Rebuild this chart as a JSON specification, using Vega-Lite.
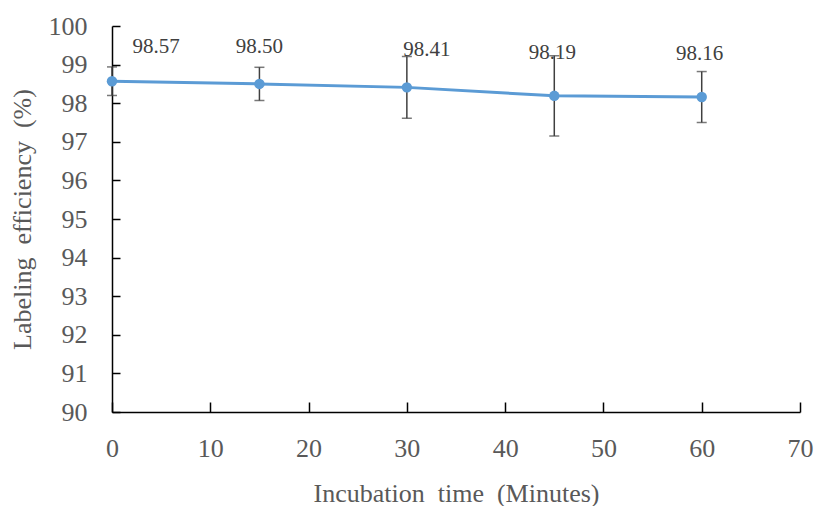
{
  "$schema": "https://vega.github.io/schema/vega-lite/v6.json",
  "width": 688,
  "height": 386,
  "autosize": {"type": "none"},
  "padding": {"left": 112, "top": 26, "right": 16, "bottom": 94},
  "background": "white",
  "config": {
    "view": {"stroke": null},
    "font": "'Liberation Serif', 'Times New Roman', serif"
  },
  "data": {
    "values": [
      {"time": 0, "eff": 98.57, "lo": 98.20, "hi": 98.94, "label": "98.57"},
      {"time": 15, "eff": 98.50, "lo": 98.07, "hi": 98.93, "label": "98.50"},
      {"time": 30, "eff": 98.41, "lo": 97.61, "hi": 99.21, "label": "98.41"},
      {"time": 45, "eff": 98.19, "lo": 97.15, "hi": 99.23, "label": "98.19"},
      {"time": 60, "eff": 98.16, "lo": 97.50, "hi": 98.82, "label": "98.16"}
    ]
  },
  "encoding": {
    "x": {
      "field": "time", "type": "quantitative",
      "scale": {"domain": [0, 70], "nice": false, "zero": false},
      "axis": {
        "title": "Incubation\u00a0 time\u00a0 (Minutes)",
        "values": [0, 10, 20, 30, 40, 50, 60, 70],
        "grid": false,
        "domainColor": "#000000", "domainWidth": 1.5,
        "tickColor": "#000000", "tickWidth": 1.5, "tickSize": -10,
        "labelFont": "'Liberation Serif', 'Times New Roman', serif", "labelFontSize": 26, "labelColor": "#595959",
        "labelPadding": 33, "labelFlush": false,
        "titleFont": "'Liberation Serif', 'Times New Roman', serif", "titleFontSize": 26, "titleColor": "#595959",
        "titleFontWeight": "normal",
        "titleBaseline": "alphabetic", "titleY": 89
      }
    },
    "y": {
      "field": "eff", "type": "quantitative",
      "scale": {"domain": [90, 100], "nice": false, "zero": false},
      "axis": {
        "title": "Labeling\u00a0 efficiency\u00a0 (%)",
        "values": [90, 91, 92, 93, 94, 95, 96, 97, 98, 99, 100],
        "grid": false,
        "domainColor": "#000000", "domainWidth": 1.5,
        "tickColor": "#000000", "tickWidth": 1.5, "tickSize": -8,
        "labelFont": "'Liberation Serif', 'Times New Roman', serif", "labelFontSize": 26, "labelColor": "#595959",
        "labelPadding": 33, "labelFlush": false,
        "titleFont": "'Liberation Serif', 'Times New Roman', serif", "titleFontSize": 26, "titleColor": "#595959",
        "titleFontWeight": "normal",
        "titleBaseline": "middle", "titleX": -90
      }
    }
  },
  "layer": [
    {
      "mark": {"type": "rule", "color": "#404040", "strokeWidth": 1.5},
      "encoding": {"y": {"field": "lo", "type": "quantitative"}, "y2": {"field": "hi"}}
    },
    {
      "mark": {"type": "tick", "color": "#404040", "orient": "horizontal", "size": 10, "thickness": 1.5},
      "encoding": {"y": {"field": "lo", "type": "quantitative"}}
    },
    {
      "mark": {"type": "tick", "color": "#404040", "orient": "horizontal", "size": 10, "thickness": 1.5},
      "encoding": {"y": {"field": "hi", "type": "quantitative"}}
    },
    {
      "mark": {"type": "line", "color": "#5B9BD5", "strokeWidth": 3},
      "encoding": {}
    },
    {
      "mark": {"type": "point", "shape": "circle", "filled": true, "color": "#5B9BD5", "size": 110, "opacity": 1},
      "encoding": {}
    },
    {
      "transform": [{"filter": "datum.time == 0"}],
      "mark": {"type": "text", "font": "'Liberation Serif', 'Times New Roman', serif", "fontSize": 21, "color": "#404040", "dx": 44, "dy": -34},
      "encoding": {"text": {"field": "label"}}
    },
    {
      "transform": [{"filter": "datum.time == 15"}],
      "mark": {"type": "text", "font": "'Liberation Serif', 'Times New Roman', serif", "fontSize": 21, "color": "#404040", "dx": 0, "dy": -37},
      "encoding": {"text": {"field": "label"}}
    },
    {
      "transform": [{"filter": "datum.time == 30"}],
      "mark": {"type": "text", "font": "'Liberation Serif', 'Times New Roman', serif", "fontSize": 21, "color": "#404040", "dx": 20, "dy": -37},
      "encoding": {"text": {"field": "label"}}
    },
    {
      "transform": [{"filter": "datum.time >= 45"}],
      "mark": {"type": "text", "font": "'Liberation Serif', 'Times New Roman', serif", "fontSize": 21, "color": "#404040", "dx": -2, "dy": -43},
      "encoding": {"text": {"field": "label"}}
    }
  ]
}
